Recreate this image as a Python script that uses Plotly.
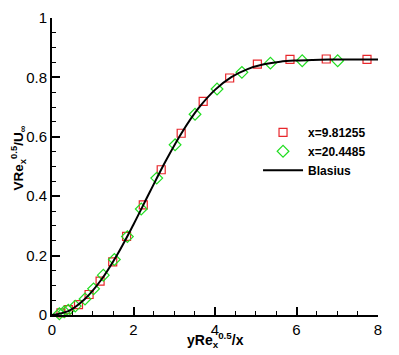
import plotly.graph_objects as go

# Blasius curve
blasius_x = [0.0, 0.4, 0.8, 1.2, 1.6, 2.0, 2.4, 2.8, 3.2, 3.6, 4.0, 4.4, 4.8, 5.2, 5.6, 6.0, 6.4, 6.8, 7.2, 7.6, 8.0]
blasius_y = [0.0, 0.013, 0.053, 0.117, 0.203, 0.305, 0.414, 0.521, 0.617, 0.697, 0.758, 0.801, 0.828, 0.844, 0.853, 0.857, 0.859, 0.860, 0.860, 0.860, 0.860]

# x = 9.81255 (red squares)
sq_x = [0.22, 0.40, 0.65, 0.91, 1.18, 1.49, 1.83, 2.24, 2.68, 3.17, 3.71, 4.36, 5.04, 5.84, 6.73, 7.73]
sq_y = [0.007, 0.018, 0.035, 0.069, 0.114, 0.179, 0.265, 0.371, 0.489, 0.612, 0.719, 0.798, 0.845, 0.861, 0.862, 0.861]

# x = 20.4485 (green diamonds)
dm_x = [0.18, 0.30, 0.40, 0.57, 0.81, 1.02, 1.26, 1.53, 1.85, 2.19, 2.57, 3.02, 3.51, 4.05, 4.66, 5.36, 6.14, 7.01]
dm_y = [0.004, 0.011, 0.016, 0.030, 0.054, 0.088, 0.134, 0.187, 0.264, 0.357, 0.461, 0.573, 0.676, 0.761, 0.817, 0.848, 0.856, 0.856]

x_ticks = [0, 2, 4, 6, 8]
y_ticks = [0, 0.2, 0.4, 0.6, 0.8, 1]

fig = go.Figure()
fig.add_trace(go.Scatter(x=sq_x, y=sq_y, mode="markers", name="<b>x=9.81255</b>",
                         marker=dict(symbol="square-open", size=8, color="#e8262b", line=dict(width=1.2))))
fig.add_trace(go.Scatter(x=dm_x, y=dm_y, mode="markers", name="<b>x=20.4485</b>",
                         marker=dict(symbol="diamond-open", size=9, color="#22dd22", line=dict(width=1.2))))
fig.add_trace(go.Scatter(x=blasius_x, y=blasius_y, mode="lines", name="<b>Blasius</b>",
                         line=dict(color="black", width=2, shape="spline")))

font_family = "Liberation Sans, Arial, Helvetica, sans-serif"
fig.update_layout(
    width=391, height=347,
    margin=dict(l=44, r=21, t=10, b=40),
    paper_bgcolor="white", plot_bgcolor="white",
    font=dict(family=font_family, size=15, color="black"),
    showlegend=True,
    legend=dict(x=0.632, y=0.664, xanchor="left", yanchor="top",
                bgcolor="rgba(0,0,0,0)", font=dict(size=12, color="black"),
                tracegroupgap=0, itemwidth=40),
    xaxis=dict(range=[0, 8], tickvals=x_ticks, ticktext=[str(v) for v in x_ticks],
               showline=True, linecolor="black", linewidth=2, mirror=False,
               ticks="inside", ticklen=8, tickwidth=2, tickcolor="black",
               showgrid=False, zeroline=False, automargin=False,
               minor=dict(dtick=0.5, ticks="inside", ticklen=4, tickwidth=1, tickcolor="black", showgrid=False)),
    yaxis=dict(range=[0, 1], tickvals=y_ticks, ticktext=["0", "0.2", "0.4", "0.6", "0.8", "1"],
               showline=True, linecolor="black", linewidth=2, mirror=False,
               ticks="inside", ticklen=8, tickwidth=2, tickcolor="black",
               showgrid=False, zeroline=False, automargin=False,
               minor=dict(dtick=0.05, ticks="inside", ticklen=4, tickwidth=1, tickcolor="black", showgrid=False)),
    annotations=[
        dict(text="<b>yRe<sub>x</sub><sup>0.5</sup>/x</b>", xref="paper", yref="paper",
             x=0.5, y=-0.045, xanchor="center", yanchor="top", showarrow=False,
             font=dict(size=14)),
        dict(text="<b>VRe<sub>x</sub><sup>0.5</sup>/U<sub>∞</sub></b>", xref="paper", yref="paper",
             x=-0.068, y=0.53, xanchor="right", yanchor="middle", textangle=-90, showarrow=False,
             font=dict(size=13.5)),
    ],
)
for t in fig.data:
    t.cliponaxis = False

fig.write_html("out.html")
